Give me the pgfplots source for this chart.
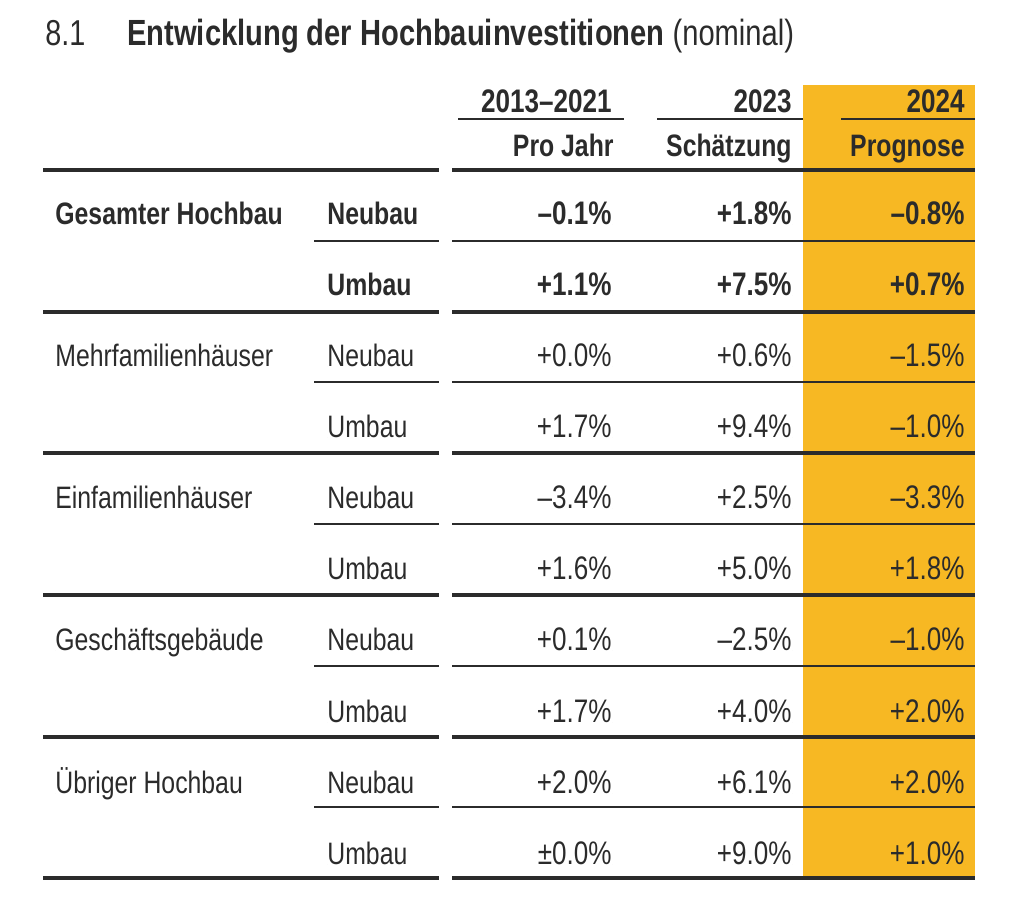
\documentclass[border=0pt]{standalone}
\usepackage{fontspec}
\setmainfont{Liberation Sans}[FakeStretch=0.8]
\usepackage{pgfplots}
\pgfplotsset{compat=1.18}
\usepackage{pgfplotstable}

\definecolor{prog}{HTML}{F7B823}
\definecolor{ink}{HTML}{2B2B2B}

% growth rates in %, columns: 2013-2021 p.a., 2023, 2024
\pgfplotstableread{
r a b c
0 -0.1 +1.8 -0.8
1 +1.1 +7.5 +0.7
}\totaltab
\pgfplotstableread{
r a b c
2 +0.0 +0.6 -1.5
3 +1.7 +9.4 -1.0
4 -3.4 +2.5 -3.3
5 +1.6 +5.0 +1.8
6 +0.1 -2.5 -1.0
7 +1.7 +4.0 +2.0
8 +2.0 +6.1 +2.0
9 0.0 +9.0 +1.0
}\investtab

\pgfplotstableread[col sep=comma]{
r,lab
2,Mehrfamilienhäuser
4,Einfamilienhäuser
6,Geschäftsgebäude
8,Übriger Hochbau
}\grouptab

\pgfplotstableread[col sep=comma]{
r,lab
2,Neubau
3,Umbau
4,Neubau
5,Umbau
6,Neubau
7,Umbau
8,Neubau
9,Umbau
}\subtab

% sign: - -> en dash, + stays, none -> plus-minus
\def\sgnA#1#2\relax{\ifx-#1–#2\else\ifx+#1+#2\else±#1#2\fi\fi\%}
\newcommand\sgn[1]{\edef\tmpv{#1}\expandafter\sgnA\tmpv\relax}

\pgfplotsset{
  cell/.style={only marks, mark=*, mark size=0pt, mark options={draw=none, fill=none},
    point meta=explicit symbolic,
    nodes near coords style={inner sep=0pt, text=ink, font=\fontsize{15.5}{18}\selectfont, anchor=#1}},
  numcell/.style={cell=#1, nodes near coords style={font=\fontsize{16.3}{18}\selectfont}},
  boldcell/.style={cell=#1, nodes near coords style={font=\fontsize{16.3}{18}\selectfont\bfseries}},
}

\begin{document}
\begin{tikzpicture}
\begin{axis}[
  scale only axis, width=506.5pt, height=451.5pt,
  xmin=0, xmax=1013, ymin=0, ymax=903, y dir=reverse,
  hide axis, clip=false,
]
\path (axis cs:0,0) rectangle (axis cs:1013,903);
\fill[prog] (axis cs:803,85) rectangle (axis cs:975,878);

% rules
\draw[ink, line width=0.6pt] (axis cs:458,119) -- (axis cs:624,119);
\draw[ink, line width=0.6pt] (axis cs:657,119) -- (axis cs:803,119);
\draw[ink, line width=0.6pt] (axis cs:841,119) -- (axis cs:975,119);
\pgfplotsinvokeforeach{170,312,453,595,737,878}{
  \draw[ink, line width=1.6pt] (axis cs:43,#1) -- (axis cs:439,#1);
  \draw[ink, line width=1.6pt] (axis cs:452,#1) -- (axis cs:975,#1);
}
\pgfplotsinvokeforeach{241,382,524,666,807}{
  \draw[ink, line width=0.7pt] (axis cs:314,#1) -- (axis cs:439,#1);
  \draw[ink, line width=0.7pt] (axis cs:452,#1) -- (axis cs:975,#1);
}

% title and headers
\node[anchor=base west, inner sep=0pt, text=ink, font=\fontsize{18}{20}\selectfont] at (axis cs:45,46) {8.1};
\node[anchor=base west, inner sep=0pt, text=ink, font=\fontsize{18.2}{20}\selectfont] at (axis cs:127,46) {\textbf{Entwicklung der Hochbauinvestitionen} (nominal)};
\begin{scope}[every node/.style={anchor=base east, inner sep=0pt, text=ink, font=\fontsize{15.5}{18}\selectfont\bfseries}]
\node[font=\fontsize{16.3}{18}\selectfont\bfseries] at (axis cs:612,113) {2013–2021};
\node[font=\fontsize{16.3}{18}\selectfont\bfseries] at (axis cs:792,113) {2023};
\node[font=\fontsize{16.3}{18}\selectfont\bfseries] at (axis cs:965,113) {2024};
\node at (axis cs:614,157) {Pro Jahr};
\node at (axis cs:792,157) {Schätzung};
\node at (axis cs:965,157) {Prognose};
\node[anchor=base west] at (axis cs:55,225) {Gesamter Hochbau};
\node[anchor=base west] at (axis cs:327,225) {Neubau};
\node[anchor=base west] at (axis cs:327,296) {Umbau};
\end{scope}

% row labels
\addplot[cell=base west, nodes near coords={\pgfplotspointmeta}]
  table[x expr=55, y expr=225+71*\thisrow{r}, meta=lab] {\grouptab};
\addplot[cell=base west, nodes near coords={\pgfplotspointmeta}]
  table[x expr=327, y expr=225+71*\thisrow{r}, meta=lab] {\subtab};

% values, Gesamter Hochbau in bold
\addplot[boldcell=base east, nodes near coords={\sgn{\pgfplotspointmeta}}]
  table[x expr=612, y expr=225+71*\thisrow{r}, meta=a] {\totaltab};
\addplot[boldcell=base east, nodes near coords={\sgn{\pgfplotspointmeta}}]
  table[x expr=792, y expr=225+71*\thisrow{r}, meta=b] {\totaltab};
\addplot[boldcell=base east, nodes near coords={\sgn{\pgfplotspointmeta}}]
  table[x expr=965, y expr=225+71*\thisrow{r}, meta=c] {\totaltab};
\addplot[numcell=base east, nodes near coords={\sgn{\pgfplotspointmeta}}]
  table[x expr=612, y expr=225+71*\thisrow{r}, meta=a] {\investtab};
\addplot[numcell=base east, nodes near coords={\sgn{\pgfplotspointmeta}}]
  table[x expr=792, y expr=225+71*\thisrow{r}, meta=b] {\investtab};
\addplot[numcell=base east, nodes near coords={\sgn{\pgfplotspointmeta}}]
  table[x expr=965, y expr=225+71*\thisrow{r}, meta=c] {\investtab};
\end{axis}
\end{tikzpicture}
\end{document}
